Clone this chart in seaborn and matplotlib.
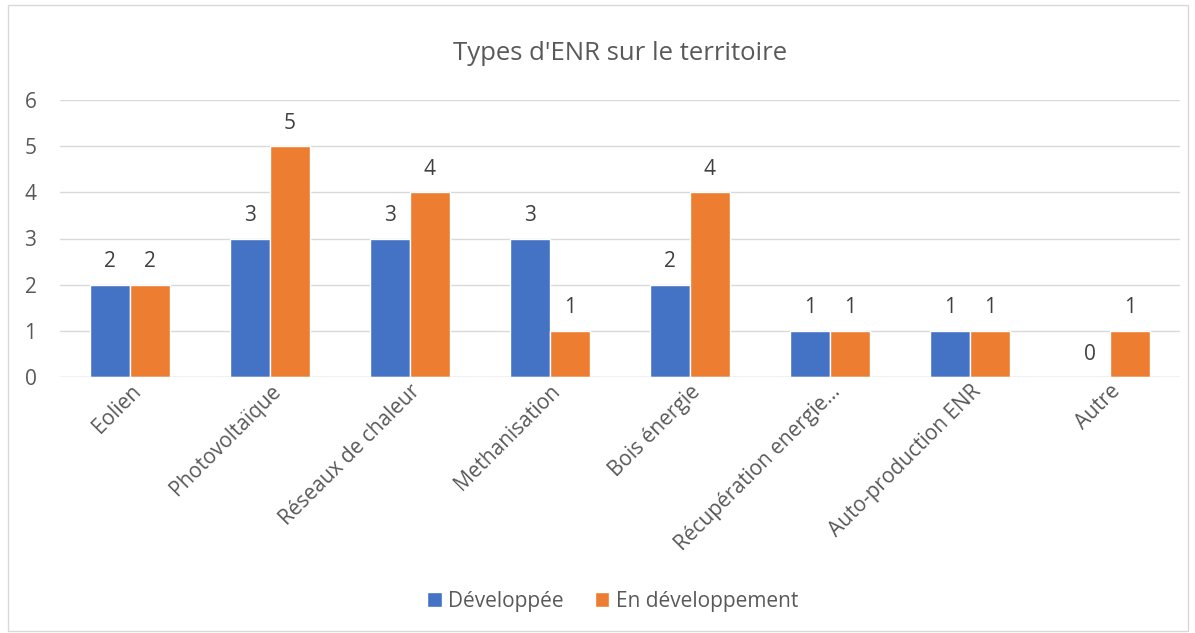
import matplotlib
matplotlib.use("Agg")
import matplotlib.pyplot as plt
import seaborn as sns
import pandas as pd
from matplotlib.patches import Rectangle

categories = ["Eolien", "Photovoltaïque", "Réseaux de chaleur", "Methanisation",
              "Bois énergie", "Récupération energie...", "Auto-production ENR", "Autre"]
developpee = [2, 3, 3, 3, 2, 1, 1, 0]
en_developpement = [2, 5, 4, 1, 4, 1, 1, 1]
series = ["Développée", "En développement"]

df = pd.DataFrame({
    "cat": categories * 2,
    "val": developpee + en_developpement,
    "serie": [series[0]] * len(categories) + [series[1]] * len(categories),
})

sns.set_style("white")
plt.rcParams["font.family"] = ["Open Sans", "DejaVu Sans"]
txt = "#595959"

fig = plt.figure(figsize=(11.95, 6.33), dpi=100)
ax = fig.add_axes([60 / 1195, 1 - 377 / 633, 1120 / 1195, 277 / 633])

sns.barplot(data=df, x="cat", y="val", hue="serie", palette=["#4472C4", "#ED7D31"],
            saturation=1, width=0.57, ax=ax, legend=True)

ax.set_ylim(0, 6)
ax.set_xlim(-0.5, len(categories) - 0.5)
ax.set_yticks(range(7))
ax.yaxis.grid(True, color="#D9D9D9", linewidth=1)
ax.set_axisbelow(True)
for s in ax.spines.values():
    s.set_visible(False)
ax.axhline(0, color="#D9D9D9", linewidth=1)
ax.tick_params(axis="both", length=0, labelsize=15, colors=txt, pad=3)
ax.tick_params(axis="y", pad=17)
ax.set_xlabel("")
ax.set_ylabel("")
plt.setp(ax.get_xticklabels(), rotation=45, ha="right", rotation_mode="anchor")

for cont in ax.containers:
    ax.bar_label(cont, labels=[str(int(v)) for v in cont.datavalues], padding=9,
                 fontsize=15, color="#404040")

ax.set_title("Types d'ENR sur le territoire", fontsize=18.5, color=txt, pad=29)

h, l = ax.get_legend_handles_labels()
ax.legend(h, l, loc="center", bbox_to_anchor=(0.5 + 15 / 1195, 1 - 601 / 633), bbox_transform=fig.transFigure,
          ncol=2, frameon=False, fontsize=15, labelcolor=txt, handlelength=0.7, handleheight=0.7,
          handletextpad=0.3, columnspacing=1.5)

fig.patches.append(Rectangle((8 / 1195, 2 / 633), 1180 / 1195, 626 / 633, transform=fig.transFigure,
                             fill=False, edgecolor="#D9D9D9", linewidth=1))

fig.savefig("out.png", dpi=100)
